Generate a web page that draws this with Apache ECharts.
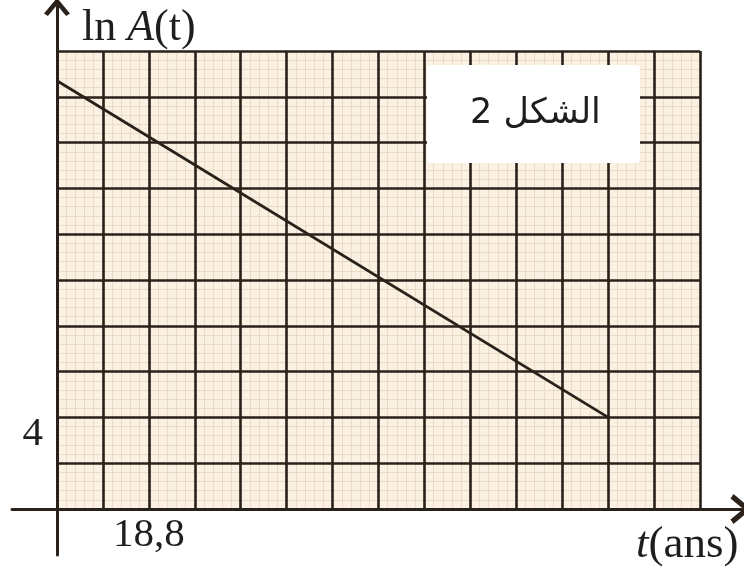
<!DOCTYPE html>
<html>
<head>
<meta charset="utf-8">
<script src="https://cdn.jsdelivr.net/npm/echarts@6/dist/echarts.min.js"></script>
<style>
  html, body { margin: 0; padding: 0; background: #ffffff; }
  #chart { width: 744px; height: 567px; }
</style>
</head>
<body>
<div id="chart"></div>
<script>
// Decay line: ln A(t) against t (years)
const tValues = [0, 112.8];
const lnAValues = [18.7, 4];

// Graph-paper scale: one major square = 9.4 years horizontally, 2 units vertically
const tStep = 9.4;
const tSquares = 14;
const lnStep = 2;
const lnSquares = 10;

// Only these ticks carry a label
const tLabel = { value: 18.8, text: '18,8' };
const lnLabel = { value: 4, text: '4' };

const serif = '"Liberation Serif", "DejaVu Serif", serif';
const ink = '#2a211a';
const textInk = '#1e1e1e';
// open arrow head (a thick V), pointing along the axis
const chevron = 'path://M10,0 L20,12 L17,14 L10,5.5 L3,14 L0,12 Z';

const tMax = tStep * tSquares;
const lnMax = lnStep * lnSquares;

// fine millimetre lines, drawn beneath the major squares
function minorAxis(extra) {
  return Object.assign({
    gridIndex: 0, type: 'value', z: 0,
    axisLine: { show: false }, axisTick: { show: false }, axisLabel: { show: false },
    splitLine: { show: false },
    minorTick: { show: false, splitNumber: 5 },
    minorSplitLine: { show: true, lineStyle: { color: '#ecdac4', width: 1 } }
  }, extra);
}

const chart = echarts.init(document.getElementById('chart'));

const option = {
  animation: false,
  backgroundColor: '#ffffff',
  grid: [
    // graph paper
    { left: 57, top: 51, width: 643, height: 458, show: true,
      backgroundColor: '#fbf1e2', borderWidth: 0, containLabel: false },
    // axes with arrows, extending past the paper
    { left: 12, top: 6, width: 730, height: 549, show: false, containLabel: false }
  ],
  xAxis: [
    {
      gridIndex: 0, type: 'value', min: 0, max: tMax, interval: tStep, z: 2,
      axisLine: { show: false }, axisTick: { show: false },
      axisLabel: {
        show: true, margin: 6, color: textInk, fontFamily: serif, fontSize: 41,
        formatter: v => Math.abs(v - tLabel.value) < 1e-6 ? tLabel.text : ''
      },
      splitLine: { show: true, lineStyle: { color: ink, width: 2.6 } }
    },
    minorAxis({ min: 0, max: tMax, interval: tStep }),
    {
      gridIndex: 1, type: 'value', min: -45, max: 685, z: 3,
      axisLine: { show: true, onZero: true, symbol: ['none', chevron], symbolSize: [30, 22],
        symbolOffset: [0, -1], lineStyle: { color: ink, width: 3 } },
      axisTick: { show: false }, axisLabel: { show: false }, splitLine: { show: false }
    }
  ],
  yAxis: [
    {
      gridIndex: 0, type: 'value', min: 0, max: lnMax, interval: lnStep, z: 2,
      axisLine: { show: false }, axisTick: { show: false },
      axisLabel: {
        show: true, margin: 14, color: textInk, fontFamily: serif, fontSize: 41,
        verticalAlign: 'top', padding: [-4, 0, 0, 0],
        formatter: v => Math.abs(v - lnLabel.value) < 1e-6 ? lnLabel.text : ''
      },
      splitLine: { show: true, lineStyle: { color: ink, width: 2.6 } }
    },
    minorAxis({ min: 0, max: lnMax, interval: lnStep }),
    {
      gridIndex: 1, type: 'value', min: -46, max: 503, z: 3,
      axisLine: { show: true, onZero: true, symbol: ['none', chevron], symbolSize: [26, 20],
        symbolOffset: [0, -1], lineStyle: { color: ink, width: 3 } },
      axisTick: { show: false }, axisLabel: { show: false }, splitLine: { show: false }
    }
  ],
  series: [
    {
      type: 'line', xAxisIndex: 0, yAxisIndex: 0,
      data: tValues.map((t, i) => [t, lnAValues[i]]),
      showSymbol: false, symbol: 'none',
      lineStyle: { color: ink, width: 2.8 },
      z: 5
    }
  ],
  graphic: [
    // figure caption box
    { type: 'rect', left: 427, top: 65, z: 10,
      shape: { width: 213, height: 98, r: 4 },
      style: { fill: '#ffffff' } },
    { type: 'text', left: 470, top: 96, z: 11,
      style: { text: 'الشكل 2', fill: textInk, font: '35px "DejaVu Sans", sans-serif' } },
    // axis titles
    { type: 'text', left: 82, top: 6, z: 11,
      style: {
        text: '{r|ln }{i|A}{r|(t)}',
        rich: {
          r: { fontFamily: serif, fontSize: 44, fill: textInk },
          i: { fontFamily: serif, fontSize: 44, fontStyle: 'italic', fill: textInk }
        }
      } },
    { type: 'text', left: 636, top: 523, z: 11,
      style: {
        text: '{i|t}{r|(ans)}',
        rich: {
          r: { fontFamily: serif, fontSize: 45, fill: textInk },
          i: { fontFamily: serif, fontSize: 45, fontStyle: 'italic', fill: textInk }
        }
      } }
  ]
};

chart.setOption(option);
</script>
</body>
</html>
